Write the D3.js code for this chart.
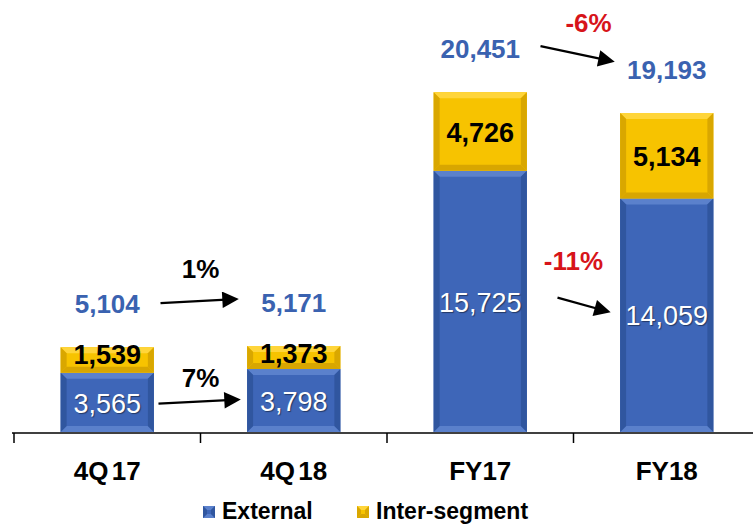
<!DOCTYPE html>
<html>
<head>
<meta charset="utf-8">
<script src="https://cdn.jsdelivr.net/npm/d3@7"></script>
<style>
  html, body { margin: 0; padding: 0; background: #fff; }
  svg { display: block; font-family: "Liberation Sans", Arial, sans-serif; }
</style>
</head>
<body>
<div id="chart"></div>
<script>
// chart values
const categories = ['4Q 17', '4Q 18', 'FY17', 'FY18'];
const external = [3565, 3798, 15725, 14059];
const interSegment = [1539, 1373, 4726, 5134];
const totals = [5104, 5171, 20451, 19193];

// change annotations: which pair, which level, text
const changeFrom = [0, 0, 2, 2];
const changeTo = [1, 1, 3, 3];
const changeLevel = ['total', 'external', 'total', 'external'];
const changeText = ['1%', '7%', '-6%', '-11%'];

const seriesNames = ['External', 'Inter-segment'];

const width = 753, height = 525;
const colors = {
  external: { base: '#3e66b8', side: '#30569f', top: '#5b81cc', bottom: '#5a80cb' },
  interSegment: { base: '#f7c300', side: '#d9a700', top: '#ffd53a', bottom: '#d8a600' }
};

const svg = d3.select('#chart').append('svg')
  .attr('width', width)
  .attr('height', height);

const x = d3.scaleBand()
  .domain(categories)
  .range([14, 760])
  .paddingInner(0.5)
  .paddingOuter(0.25);

const y = d3.scaleLinear()
  .domain([0, 26000])
  .range([432, 0]);

const rows = categories.map((c, i) => ({ cat: c, external: external[i], interSegment: interSegment[i] }));
const stacked = d3.stack().keys(['external', 'interSegment'])(rows);

// bar with a bevelled edge, like the office chart style
function bevelBar(g, bx, by, w, h, c) {
  const b = Math.min(6, h / 3);
  g.append('rect').attr('x', bx).attr('y', by).attr('width', w).attr('height', h).attr('fill', c.base);
  const poly = (pts, fill) => g.append('polygon').attr('points', pts.map(p => p.join(',')).join(' ')).attr('fill', fill);
  poly([[bx, by], [bx + w, by], [bx + w - b, by + b], [bx + b, by + b]], c.top);
  poly([[bx, by + h], [bx + w, by + h], [bx + w - b, by + h - b], [bx + b, by + h - b]], c.bottom);
  poly([[bx, by], [bx + b, by + b], [bx + b, by + h - b], [bx, by + h]], c.side);
  poly([[bx + w, by], [bx + w - b, by + b], [bx + w - b, by + h - b], [bx + w, by + h]], c.side);
}

const barLayer = svg.append('g');
stacked.forEach(s => {
  s.forEach(d => {
    const g = barLayer.append('g');
    bevelBar(g, x(d.data.cat), y(d[1]), x.bandwidth(), y(d[0]) - y(d[1]), colors[s.key]);
  });
});

// axis line with ticks at band edges
const step = x.step();
const edges = categories.map(c => x(c) - step * x.paddingInner() / 2);
svg.append('line')
  .attr('x1', edges[0] - 2).attr('x2', width)
  .attr('y1', y(0) + 1).attr('y2', y(0) + 1)
  .attr('stroke', '#000').attr('stroke-width', 1.5);
svg.selectAll('.tick').data(edges).enter().append('line')
  .attr('x1', d => d).attr('x2', d => d)
  .attr('y1', y(0) + 1).attr('y2', y(0) + 11)
  .attr('stroke', '#000').attr('stroke-width', 1.5);

// category labels
svg.selectAll('.cat').data(categories).enter().append('text')
  .attr('x', d => x(d) + x.bandwidth() / 2)
  .attr('y', 480)
  .attr('text-anchor', 'middle')
  .attr('font-size', 26)
  .attr('font-weight', 'bold')
  .attr('word-spacing', -4)
  .text(d => d);

const fmt = d3.format(',');

// segment labels
const labelSize = 27;
const labelY = [];
stacked.forEach(s => {
  s.forEach((d, i) => {
    const top = y(d[1]), bot = y(d[0]);
    const h = bot - top;
    let ty = h < labelSize ? top + labelSize * 0.62 : (top + bot) / 2 + labelSize * 0.38;
    if (s.key === 'external') labelY[i] = ty;
    svg.append('text')
      .attr('x', x(d.data.cat) + x.bandwidth() / 2)
      .attr('y', ty)
      .attr('text-anchor', 'middle')
      .attr('font-size', labelSize)
      .attr('font-weight', s.key === 'external' ? 'normal' : 'bold')
      .attr('fill', s.key === 'external' ? '#fff' : '#000')
      .style('text-shadow', s.key === 'external' ? '1px 1px 1px rgba(0,0,0,0.45)' : null)
      .text(fmt(d.data[s.key]));
  });
});

// totals above bars
const totalY = totals.map((t, i) => y(t) - 34);
svg.selectAll('.total').data(totals).enter().append('text')
  .attr('x', (d, i) => x(categories[i]) + x.bandwidth() / 2)
  .attr('y', (d, i) => totalY[i])
  .attr('text-anchor', 'middle')
  .attr('font-size', 26)
  .attr('font-weight', 'bold')
  .attr('fill', '#3a62b0')
  .text(d => fmt(d));

// arrows between bars
svg.append('defs').append('marker')
  .attr('id', 'head')
  .attr('viewBox', '0 0 10 10')
  .attr('refX', 8).attr('refY', 5)
  .attr('markerWidth', 8.5).attr('markerHeight', 7.5)
  .attr('markerUnits', 'strokeWidth')
  .attr('orient', 'auto')
  .append('path').attr('d', 'M0,0 L10,5 L0,10 Z').attr('fill', '#000');

// arrow layout: start/end offsets from the gap centre, label offsets
const arrowStart = [-40, -42, -33, -16];
const arrowEnd = [35, 37, 38, 34];
const arrowDy0 = [-10, -9, -12, -14];
const arrowDy1 = [-13, -11, -18, -14];
const textDx = [0, 0, 15, 0];
const textDy = [-23, -15, -22, -35];

changeText.forEach((t, k) => {
  const i = changeFrom[k], j = changeTo[k];
  const gap = x(categories[j]) - step * x.paddingInner() / 2;
  const yy = changeLevel[k] === 'total' ? totalY : labelY;
  const y0 = yy[i] + arrowDy0[k], y1 = yy[j] + arrowDy1[k];
  svg.append('line')
    .attr('x1', gap + arrowStart[k]).attr('y1', y0)
    .attr('x2', gap + arrowEnd[k]).attr('y2', y1)
    .attr('stroke', '#000').attr('stroke-width', 2.2)
    .attr('marker-end', 'url(#head)');
  svg.append('text')
    .attr('x', gap + textDx[k])
    .attr('y', (y0 + y1) / 2 + textDy[k])
    .attr('text-anchor', 'middle')
    .attr('font-size', 26)
    .attr('font-weight', 'bold')
    .attr('fill', t.startsWith('-') ? '#d7141a' : '#000')
    .text(t);
});

// legend
const legendX = [203, 357];
const legendKeys = ['external', 'interSegment'];
seriesNames.forEach((n, i) => {
  const g = svg.append('g');
  bevelBar(g, legendX[i], 506, 12, 12, colors[legendKeys[i]]);
  svg.append('text')
    .attr('x', legendX[i] + 19)
    .attr('y', 519)
    .attr('font-size', 23)
    .attr('font-weight', 'bold')
    .text(n);
});
</script>
</body>
</html>
